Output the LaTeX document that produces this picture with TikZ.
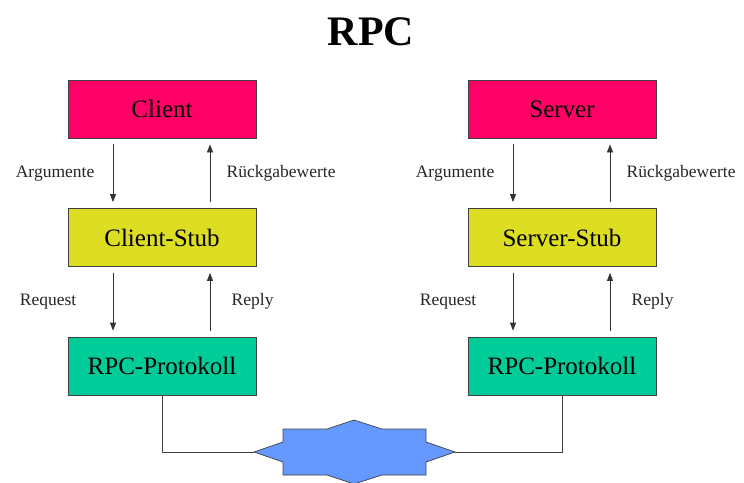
\documentclass[tikz,border=0pt]{standalone}
\usepackage{fontspec}
\setmainfont{Liberation Serif}
\usetikzlibrary{arrows.meta}

\definecolor{apppink}{HTML}{FF0066}
\definecolor{stubyellow}{HTML}{DDDD22}
\definecolor{protogreen}{HTML}{00CC99}
\definecolor{netblue}{HTML}{6699FF}

\begin{document}
\begin{tikzpicture}[x=1pt, y=-1pt, >={Triangle[length=8pt, width=6pt]},
  box/.style={draw=black!75, line width=0.8pt, minimum width=188pt, minimum height=58pt,
    inner sep=0pt, font=\fontsize{25}{28}\selectfont},
  lbl/.style={font=\fontsize{17.5}{21}\selectfont, text=black!85},
  flow/.style={->, line width=0.8pt, draw=black!80, shorten <=6pt, shorten >=6pt}]

\useasboundingbox (0,0) rectangle (744,482);

% Title
\node[font=\fontsize{42}{46}\selectfont\bfseries] (title) at (371,32) {RPC};

% Client side
\node[box, fill=apppink] (client) at (162,109) {Client};
\node[box, fill=stubyellow] (cstub) at (162,237.5) {Client-Stub};
\node[box, fill=protogreen] (cproto) at (162,366) {RPC-Protokoll};

% Server side
\node[box, fill=apppink] (server) at (562,109) {Server};
\node[box, fill=stubyellow] (sstub) at (562,237.5) {Server-Stub};
\node[box, fill=protogreen] (sproto) at (562,366) {RPC-Protokoll};

% Calls down, results up (client)
\draw[flow] ([xshift=-49pt]client.south) -- ([xshift=-49pt]cstub.north) node[midway, left=15pt, lbl] {Argumente};
\draw[flow] ([xshift=48pt]cstub.north) -- ([xshift=48pt]client.south) node[midway, right=13pt, lbl] {Rückgabewerte};
\draw[flow] ([xshift=-49pt]cstub.south) -- ([xshift=-49pt]cproto.north) node[midway, left=33pt, lbl] {Request};
\draw[flow] ([xshift=48pt]cproto.north) -- ([xshift=48pt]cstub.south) node[midway, right=18pt, lbl] {Reply};

% Calls down, results up (server)
\draw[flow] ([xshift=-49pt]server.south) -- ([xshift=-49pt]sstub.north) node[midway, left=15pt, lbl] {Argumente};
\draw[flow] ([xshift=48pt]sstub.north) -- ([xshift=48pt]server.south) node[midway, right=13pt, lbl] {Rückgabewerte};
\draw[flow] ([xshift=-49pt]sstub.south) -- ([xshift=-49pt]sproto.north) node[midway, left=33pt, lbl] {Request};
\draw[flow] ([xshift=48pt]sproto.north) -- ([xshift=48pt]sstub.south) node[midway, right=18pt, lbl] {Reply};

% Network (star)
\coordinate (netL) at (254,452);
\coordinate (netR) at (455,452);
\filldraw[fill=netblue, draw=black!75, line width=0.7pt]
  (283,429) -- (327,429) -- (354,420) -- (382,429) -- (426,429) -- (426,442) -- (netR)
  -- (426,462) -- (426,475) -- (382,475) -- (354,484) -- (327,475) -- (283,475)
  -- (283,462) -- (netL) -- (283,442) -- cycle;

% Wires
\draw[line width=0.7pt, black!75] (cproto.south) |- (netL);
\draw[line width=0.7pt, black!75] (sproto.south) |- (netR);

\end{tikzpicture}
\end{document}
